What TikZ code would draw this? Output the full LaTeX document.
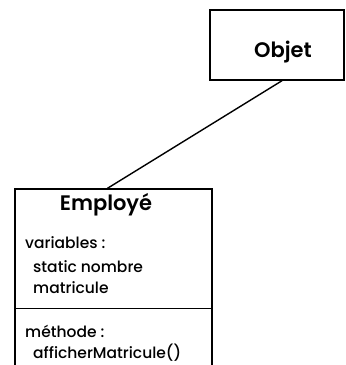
\documentclass[tikz,border=0pt]{standalone}
\usepackage{fontspec}
\setmainfont{Poppins}
\newfontfamily\umlTitleFont{Poppins SemiBold}
\newfontfamily\umlMemberFont{Poppins Medium}
\usetikzlibrary{positioning}

\begin{document}
\begin{tikzpicture}
[x=1pt,y=-1pt,
  lineDecorate/.style={-,line width=1.4pt},%
  classDecorate/.style={draw,line width=1.4pt,inner sep=0pt},
  titleDecorate/.style={font=\umlTitleFont\fontsize{21}{24}\selectfont,anchor=base,inner sep=0pt},
  memberDecorate/.style={font=\umlMemberFont\fontsize{15.5}{18}\selectfont,anchor=base west,inner sep=0pt}]
\useasboundingbox (0,0) rectangle (346,365);
\clip (0,0) rectangle (346,365);
%% classes
\node (objet) at (277,45) [classDecorate,minimum width=134pt,minimum height=70pt] {};
\node (objetTitle) at (283,57) [titleDecorate] {Objet};
\node (employe) at (113.5,281) [classDecorate,minimum width=197pt,minimum height=184pt] {};
\node (employeTitle) at (106,210) [titleDecorate] {Employé};
%% members
\foreach \nodename/\x/\y/\txt in {
  varHead/25/248/{variables :},
  varNombre/33/272/{static nombre},
  varMatricule/33/293/{matricule},
  methHead/25/337/{méthode :},
  methAfficher/33/358/{afficherMatricule()}}
{
  \node (\nodename) at (\x,\y) [memberDecorate] {\txt};
}
%% divider and link
\coordinate (divLeft) at (employe.west |- 0,308);
\coordinate (divRight) at (employe.east |- 0,308);
\draw[line width=0.8pt] (divLeft) -- (divRight);
\draw[lineDecorate] ([xshift=5pt]objet.south) -- ([xshift=-6pt]employe.north);
\end{tikzpicture}
\end{document}
